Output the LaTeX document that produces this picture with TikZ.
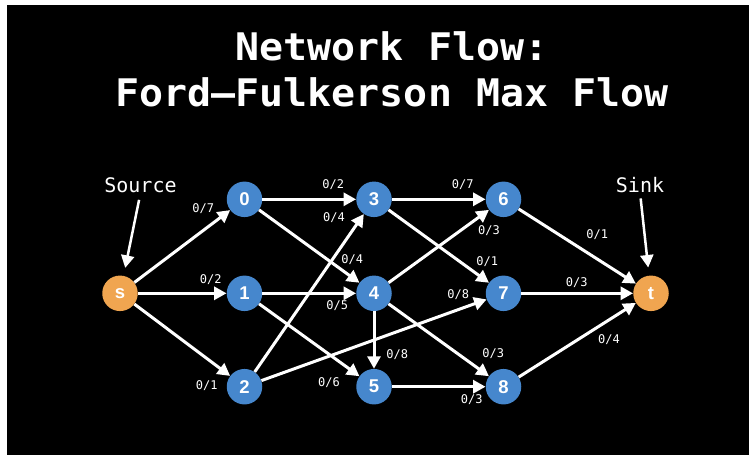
\documentclass[tikz,border=0pt]{standalone}
\usepackage{fontspec}
\setsansfont{Liberation Sans}
\setmonofont{DejaVu Sans Mono}
\newfontfamily\titlefont{DejaVu Sans Mono}[FakeStretch=1.05]
\usetikzlibrary{arrows.meta}
\definecolor{bluejay}{RGB}{70, 135, 205}
\definecolor{tangerine}{RGB}{240, 165, 80}
\tikzset{
  vert/.style={circle, fill=bluejay, minimum size=35.5pt, inner sep=0pt, text=white,
               font=\sffamily\bfseries\fontsize{18.5}{18.5}\selectfont},
  term/.style={vert, fill=tangerine},
  pipe/.style={draw=white, line width=3pt, -{Triangle[length=12.5pt, width=13pt]}},
  pointer/.style={pipe, line width=2.5pt},
  flowlabel/.style={text=white, inner sep=0pt, font=\ttfamily\fontsize{12}{12}\selectfont},
  pointlabel/.style={text=white, inner sep=0pt, anchor=base, font=\ttfamily\fontsize{20}{20}\selectfont},
  headline/.style={text=white, inner sep=0pt, anchor=base, font=\titlefont\bfseries\fontsize{38}{38}\selectfont}
}

\begin{document}
\begin{tikzpicture}[x=1pt, y=-1pt]
    \fill[white]                        (0, 0) rectangle (749, 455);
    \fill[black]                        (7, 5) rectangle (749, 455);

    \node[headline] (title1) at (392,  60.0) {Network Flow:};
    \node[headline] (title2) at (392, 106.5) {Ford–Fulkerson Max Flow};

    \node[term] (s)  at (120.0, 293.3) {s};
    \node[vert] (n0) at (244.5, 199.3) {0};
    \node[vert] (n1) at (244.5, 293.3) {1};
    \node[vert] (n2) at (244.5, 386.7) {2};
    \node[vert] (n3) at (374.0, 199.3) {3};
    \node[vert] (n4) at (374.0, 293.3) {4};
    \node[vert] (n5) at (374.0, 386.7) {5};
    \node[vert] (n6) at (503.5, 199.3) {6};
    \node[vert] (n7) at (503.5, 293.3) {7};
    \node[vert] (n8) at (503.5, 386.7) {8};
    \node[term] (t)  at (651.0, 293.3) {t};

    \node[pointlabel] (src)  at (140.5, 192.5) {Source};
    \node[pointlabel] (sink) at (640.0, 192.0) {Sink};
    \draw[pointer, shorten <=7pt, shorten >=8pt] (src.south)  -- (s);
    \draw[pointer, shorten <=6pt, shorten >=8pt] (sink.south) -- (t);

    \draw[pipe] (s)  -- (n0);
    \draw[pipe] (s)  -- (n1);
    \draw[pipe] (s)  -- (n2);
    \draw[pipe] (n0) -- (n3);
    \draw[pipe] (n0) -- (n4);
    \draw[pipe] (n1) -- (n4);
    \draw[pipe] (n1) -- (n5);
    \draw[pipe] (n2) -- (n3);
    \draw[pipe] (n2) -- (n7);
    \draw[pipe] (n3) -- (n6);
    \draw[pipe] (n3) -- (n7);
    \draw[pipe] (n4) -- (n6);
    \draw[pipe] (n4) -- (n5);
    \draw[pipe] (n4) -- (n8);
    \draw[pipe] (n5) -- (n8);
    \draw[pipe] (n6) -- (t);
    \draw[pipe] (n7) -- (t);
    \draw[pipe] (n8) -- (t);

    \node[flowlabel] (f-s0) at (203.3, 208.3) {0/7};
    \node[flowlabel] (f-s1) at (210.7, 279.3) {0/2};
    \node[flowlabel] (f-s2) at (206.7, 386.0) {0/1};
    \node[flowlabel] (f-03) at (333.3, 184.3) {0/2};
    \node[flowlabel] (f-23) at (334.0, 217.3) {0/4};
    \node[flowlabel] (f-04) at (352.3, 259.3) {0/4};
    \node[flowlabel] (f-14) at (337.3, 305.7) {0/5};
    \node[flowlabel] (f-15) at (329.0, 382.7) {0/6};
    \node[flowlabel] (f-45) at (397.3, 355.0) {0/8};
    \node[flowlabel] (f-36) at (462.7, 185.0) {0/7};
    \node[flowlabel] (f-46) at (489.0, 230.7) {0/3};
    \node[flowlabel] (f-37) at (487.3, 261.7) {0/1};
    \node[flowlabel] (f-27) at (458.3, 295.0) {0/8};
    \node[flowlabel] (f-48) at (493.3, 353.3) {0/3};
    \node[flowlabel] (f-58) at (471.7, 399.3) {0/3};
    \node[flowlabel] (f-6t) at (597.3, 235.0) {0/1};
    \node[flowlabel] (f-7t) at (576.7, 282.3) {0/3};
    \node[flowlabel] (f-8t) at (609.0, 340.0) {0/4};
\end{tikzpicture}
\end{document}
